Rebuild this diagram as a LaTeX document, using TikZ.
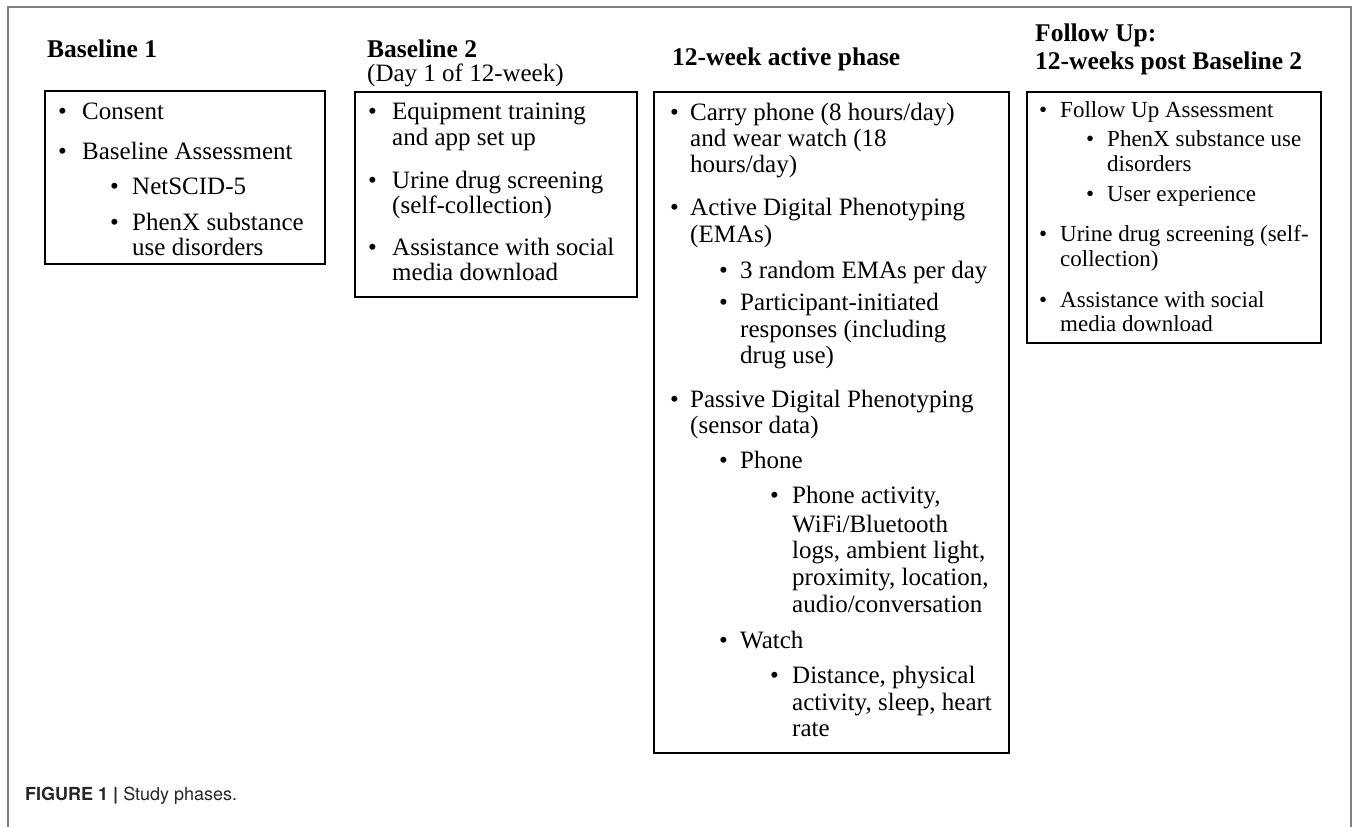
\documentclass[tikz,border=0pt]{standalone}
\usepackage{fontspec}
\setmainfont{Liberation Serif}
\newfontfamily\capfont{TeX Gyre Heros}

\tikzset{
  frameline/.style={draw=black!50, line width=1.6pt},
  phasebox/.style={draw=black, line width=2.8pt, outer sep=0pt, inner sep=0pt, anchor=north west},
  head/.style={anchor=base west, inner sep=0pt, font=\fontsize{25.5}{30}\selectfont\bfseries},
  txt/.style={anchor=base west, inner sep=0pt, font=\fontsize{25}{30}\selectfont},
  txtsm/.style={txt, font=\fontsize{23}{28}\selectfont},
  dot/.style={anchor=base west, inner sep=0pt, font=\fontsize{25}{30}\selectfont},
  dotsm/.style={dot, font=\fontsize{23}{28}\selectfont},
}

\begin{document}
\begin{tikzpicture}[x=1pt,y=-1pt]
\useasboundingbox (0,0) rectangle (1357,827);
% figure frame, open at the bottom
\draw[frameline] (8,827) -- (8,7) -- (1351,7) -- (1351,827);

% headings
\node[head] (h1) at (47,57) {Baseline 1};
\node[head] (h2) at (367,57) {Baseline 2};
\node[txt] (h2b) at (367,81) {(Day 1 of 12-week)};
\node[head] (h3) at (672,65) {12-week active phase};
\node[head] (h4) at (1035,41) {Follow Up:};
\node[head] (h4b) at (1035,69) {12-weeks post Baseline 2};

% the four phase boxes
\node[phasebox, minimum width=280pt, minimum height=173pt] (box1) at (45,91) {};
\node[phasebox, minimum width=282pt, minimum height=205pt] (box2) at (355,92) {};
\node[phasebox, minimum width=355pt, minimum height=661pt] (box3) at (654,92) {};
\node[phasebox, minimum width=294pt, minimum height=251pt] (box4) at (1027,92) {};

% Baseline 1
\foreach \x/\y [count=\i] in {58/119, 58/159, 110/194, 110/230}
  \node[dot] (d1\i) at (\x,\y) {\textbullet};
\foreach \x/\y/\t [count=\i] in {82/119/{Consent}, 82/159/{Baseline Assessment},
    132/194/{NetSCID-5}, 132/230/{PhenX substance}, 132/255/{use disorders}}
  \node[txt] (t1\i) at (\x,\y) {\t};

% Baseline 2
\foreach \y [count=\i] in {119, 188, 255}
  \node[dot] (d2\i) at (368,\y) {\textbullet};
\foreach \y/\t [count=\i] in {119/{Equipment training}, 145/{and app set up},
    188/{Urine drug screening}, 213/{(self-collection)},
    255/{Assistance with social}, 280/{media download}}
  \node[txt] (t2\i) at (392,\y) {\t};

% 12-week active phase
\foreach \x/\y [count=\i] in {670/120, 670/215, 719/278, 719/310, 670/407,
    719/468, 770/503, 719/648, 770/683}
  \node[dot] (d3\i) at (\x,\y) {\textbullet};
\foreach \x/\y/\t [count=\i] in {690/120/{Carry phone (8 hours/day)},
    690/146/{and wear watch (18}, 690/172/{hours/day)},
    690/215/{Active Digital Phenotyping}, 690/242/{(EMAs)},
    740/278/{3 random EMAs per day}, 740/310/{Participant-initiated},
    740/337/{responses (including}, 740/363/{drug use)},
    690/407/{Passive Digital Phenotyping}, 690/433/{(sensor data)},
    740/468/{Phone},
    792/503/{Phone activity,}, 792/532/{WiFi/Bluetooth},
    792/558/{logs, ambient light,}, 792/585/{proximity, location,},
    792/612/{audio/conversation},
    740/648/{Watch},
    792/683/{Distance, physical}, 792/710/{activity, sleep, heart}, 792/736/{rate}}
  \node[txt] (t3\i) at (\x,\y) {\t};

% Follow Up
\foreach \x/\y [count=\i] in {1039/117, 1086/146, 1086/201, 1039/241, 1039/307}
  \node[dotsm] (d4\i) at (\x,\y) {\textbullet};
\foreach \x/\y/\t [count=\i] in {1060/117/{Follow Up Assessment},
    1107/146/{PhenX substance use}, 1107/171/{disorders},
    1107/201/{User experience},
    1060/241/{Urine drug screening (self-}, 1060/266/{collection)},
    1060/307/{Assistance with social}, 1060/331/{media download}}
  \node[txtsm] (t4\i) at (\x,\y) {\t};

% caption
\node[anchor=base west, inner sep=0pt, text=black!85,
  font=\capfont\fontsize{18}{21}\selectfont] (cap) at (25,800)
  {\textbf{FIGURE 1 |} Study phases.};
\end{tikzpicture}
\end{document}
